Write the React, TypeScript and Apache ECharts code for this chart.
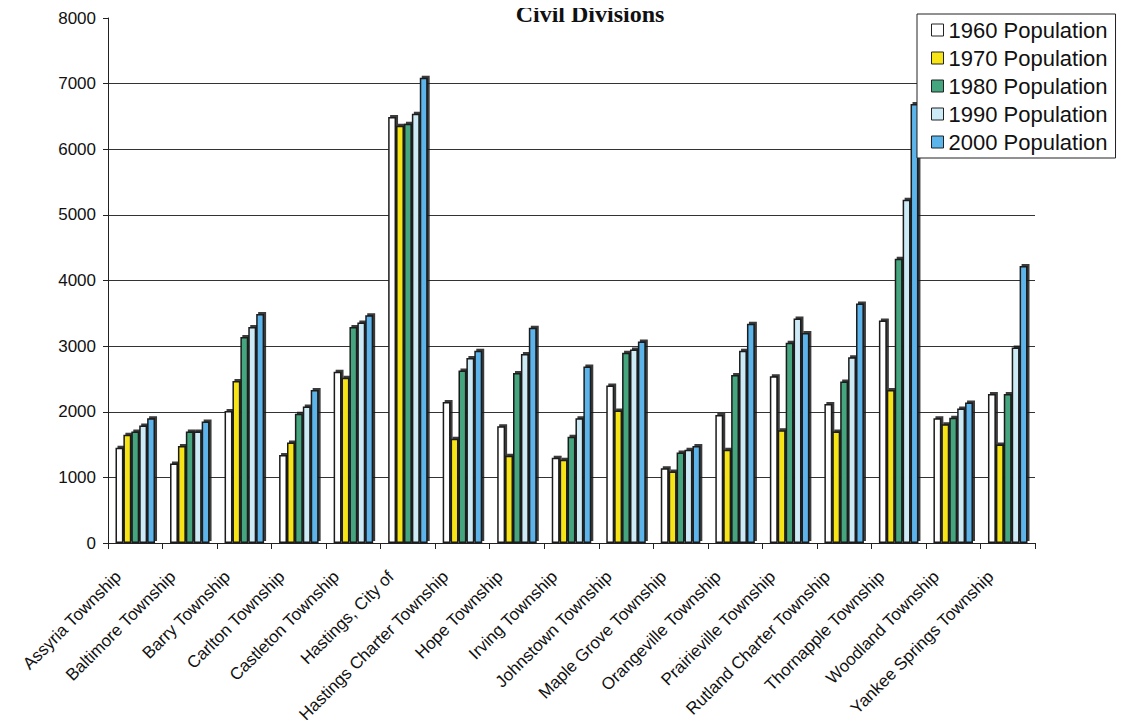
import React, { useEffect, useRef } from "react";
import * as echarts from "echarts";

const categories = [
  "Assyria Township", "Baltimore Township", "Barry Township", "Carlton Township",
  "Castleton Township", "Hastings, City of", "Hastings Charter Township", "Hope Township",
  "Irving Township", "Johnstown Township", "Maple Grove Township", "Orangeville Township",
  "Prairieville Township", "Rutland Charter Township", "Thornapple Township",
  "Woodland Township", "Yankee Springs Township",
];

const pop1960 = [1450, 1210, 2010, 1340, 2610, 6490, 2150, 1780, 1300, 2400, 1140, 1950, 2540, 2120, 3390, 1900, 2270];
const pop1970 = [1650, 1480, 2470, 1530, 2520, 6360, 1590, 1330, 1270, 2020, 1090, 1420, 1720, 1700, 2330, 1810, 1500];
const pop1980 = [1700, 1700, 3140, 1970, 3290, 6390, 2630, 2590, 1620, 2900, 1380, 2560, 3050, 2460, 4330, 1910, 2270];
const pop1990 = [1790, 1700, 3290, 2080, 3360, 6540, 2820, 2880, 1900, 2950, 1420, 2930, 3420, 2830, 5230, 2050, 2980];
const pop2000 = [1900, 1850, 3490, 2330, 3470, 7090, 2930, 3280, 2690, 3070, 1480, 3340, 3200, 3650, 6690, 2140, 4220];

const seriesNames = ["1960 Population", "1970 Population", "1980 Population", "1990 Population", "2000 Population"];
const seriesColors = ["#FFFFFF", "#F7E417", "#45A57F", "#CDEBF6", "#5BB4EA"];
const seriesData = [pop1960, pop1970, pop1980, pop1990, pop2000];

const yMin = 0;
const yMax = 8000;
const yInterval = 1000;

export default function App() {
  const ref = useRef<HTMLDivElement>(null);
  useEffect(() => {
    if (!ref.current) return;
    const chart = echarts.init(ref.current, null, { renderer: "svg" });
    const font = "Liberation Sans, Arial, sans-serif";
    chart.setOption({
      animation: false,
      backgroundColor: "#FFFFFF",
      graphic: [
        {
          type: "text",
          x: 590,
          y: 2,
          style: {
            text: "Civil Divisions",
            fontFamily: "Liberation Serif, Times New Roman, serif",
            fontSize: 24,
            fontWeight: "bold",
            fill: "#111",
            textAlign: "center",
            textVerticalAlign: "top",
          },
        },
      ],
      legend: {
        orient: "vertical",
        left: 917,
        top: 14,
        padding: [5, 8, 5, 14],
        itemWidth: 12,
        itemHeight: 12,
        itemGap: 6,
        backgroundColor: "#FFFFFF",
        borderColor: "#222",
        borderWidth: 1,
        icon: "rect",
        itemStyle: { borderColor: "#222", borderWidth: 1 },
        textStyle: { fontFamily: font, fontSize: 22, color: "#111" },
        data: seriesNames,
      },
      grid: { left: 108, right: 91, top: 18, bottom: 185, containLabel: false },
      xAxis: {
        type: "category",
        data: categories,
        axisLine: { lineStyle: { color: "#222", width: 1 } },
        axisTick: { show: true, length: 6, lineStyle: { color: "#222" } },
        axisLabel: {
          rotate: 45,
          interval: 0,
          margin: 14,
          padding: [0, 24, 0, 0],
          fontFamily: font,
          fontSize: 17,
          color: "#111",
        },
      },
      yAxis: {
        type: "value",
        min: yMin,
        max: yMax,
        interval: yInterval,
        axisLine: { show: true, lineStyle: { color: "#222", width: 1 } },
        axisTick: { show: true, length: 5, lineStyle: { color: "#222" } },
        axisLabel: {
          fontFamily: font,
          fontSize: 17,
          color: "#111",
          margin: 12,
          formatter: (v: number) => String(v),
        },
        splitLine: { show: true, showMaxLine: false, lineStyle: { color: "#333", width: 1 } },
      },
      series: seriesData.map((d, i) => ({
        name: seriesNames[i],
        type: "bar",
        data: d,
        barWidth: "14.5%",
        barGap: "0%",
        itemStyle: {
          color: seriesColors[i],
          borderColor: "#1a1a1a",
          borderWidth: 1.5,
          shadowColor: "rgba(20,20,20,0.85)",
          shadowOffsetX: 2,
          shadowOffsetY: -2,
          shadowBlur: 0,
        },
      })),
    });
    return () => chart.dispose();
  }, []);
  return <div ref={ref} style={{ width: 1126, height: 728, margin: -8 }} />;
}
